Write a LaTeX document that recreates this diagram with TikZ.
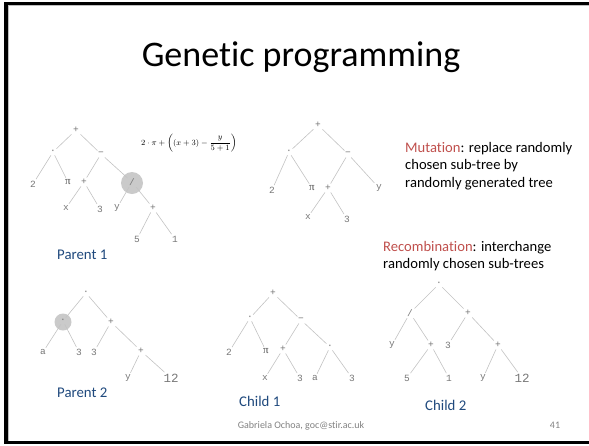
\documentclass[tikz,border=0pt]{standalone}
\usepackage{fontspec}
\setmainfont{Carlito}[Ligatures=NoCommon]
\newfontfamily\treefont{Liberation Mono}
\newfontfamily\greekfont{Liberation Serif}
\definecolor{treegray}{RGB}{120,120,120}
\definecolor{linegray}{RGB}{195,195,195}
\definecolor{circgray}{RGB}{185,185,185}
\definecolor{capblue}{RGB}{31,73,125}
\definecolor{keyred}{RGB}{192,80,77}
\definecolor{footgray}{RGB}{130,130,130}
\tikzset{
  tl/.style={font=\fontsize{9.5}{11}\selectfont\treefont, text=treegray, inner sep=1.5pt},
  tlbig/.style={tl, font=\fontsize{12.5}{14}\selectfont\treefont},
  pil/.style={tl, font=\fontsize{11}{12}\selectfont\greekfont, text=black!70},
  br/.style={draw=linegray, line width=0.6pt},
  sel/.style={circle, fill=circgray, fill opacity=0.75, minimum size=#1, inner sep=0pt},
  treecaption/.style={font=\fontsize{14.8}{17}\selectfont, text=capblue, anchor=west, inner sep=0pt},
  body/.style={font=\fontsize{14.6}{17.5}\selectfont, align=left, anchor=north west, inner sep=0pt}
}
\begin{document}
\begin{tikzpicture}[x=1pt,y=-1pt]
\useasboundingbox (0,0) rectangle (589,445);
\fill[white] (0,0) rectangle (589,445);
% slide frame
\fill[black] (4,2) rectangle (589,4.6);
\fill[black] (4,2) rectangle (8,443.5);
\fill[black] (4,441) rectangle (589,443.6);
\draw[black!25, line width=0.6pt] (8.5,5) -- (589,5);
\draw[black!25, line width=0.6pt] (8.5,5) -- (8.5,440.5);

% title
\node[font=\fontsize{36}{40}\selectfont] (title) at (301,57) {Genetic programming};

% ---------- Parent 1 ----------
\node[sel=22pt] (p1c) at (132,183) {};
\node[tl] (p1r) at (76,130) {+};
\node[tl] (p1m) at (53,152) {·};
\node[tl] (p1s) at (101,154) {−};
\node[tl] (p1two) at (33,184) {2};
\node[pil] (p1pi) at (68,182) {π};
\node[tl] (p1p) at (84,182) {+};
\node[tl] (p1d) at (132,182) {/};
\node[tl] (p1x) at (66,208) {x};
\node[tl] (p1th) at (100,209) {3};
\node[tl] (p1y) at (117,208) {y};
\node[tl] (p1q) at (153,208) {+};
\node[tl] (p1f) at (137,239) {5};
\node[tl] (p1o) at (175,239) {1};
\draw[br] (p1r) -- (p1m);
\draw[br] (p1r) -- (p1s);
\draw[br] (p1m) -- (p1two);
\draw[br] (p1m) -- (p1pi);
\draw[br] (p1s) -- (p1p);
\draw[br] (p1s) -- (p1d);
\draw[br] (p1p) -- (p1x);
\draw[br] (p1p) -- (p1th);
\draw[br] (p1d) -- (p1y);
\draw[br] (p1d) -- (p1q);
\draw[br] (p1q) -- (p1f);
\draw[br] (p1q) -- (p1o);
\node[treecaption] (lp1) at (57,255) {Parent 1};

% expression of parent 1
\node[font=\fontsize{8}{10}\selectfont] (expr) at (189,143)
  {$\displaystyle 2\cdot\pi+\left((x+3)-\frac{y}{5+1}\right)$};

% ---------- Mutated tree ----------
\node[tl] (mr) at (318,125) {+};
\node[tl] (mm) at (289,152) {·};
\node[tl] (ms) at (348,154) {−};
\node[tl] (mtwo) at (272,190) {2};
\node[pil] (mpi) at (312,188) {π};
\node[tl] (mp) at (328,188) {+};
\node[tl] (my) at (379,188) {y};
\node[tl] (mx) at (308,217) {x};
\node[tl] (mth) at (347,219) {3};
\draw[br] (mr) -- (mm);
\draw[br] (mr) -- (ms);
\draw[br] (mm) -- (mtwo);
\draw[br] (mm) -- (mpi);
\draw[br] (ms) -- (mp);
\draw[br] (ms) -- (my);
\draw[br] (mp) -- (mx);
\draw[br] (mp) -- (mth);

% operator descriptions
\node[body] (mut) at (405,142)
  {\textcolor{keyred}{Mutation}: replace randomly\\chosen sub-tree by\\randomly generated tree};
\node[body] (rec) at (383,241)
  {\textcolor{keyred}{Recombination}: interchange\\randomly chosen sub-trees};

% ---------- Parent 2 ----------
\node[sel=17pt] (p2c) at (63,322) {};
\node[tl] (p2r) at (86,293) {·};
\node[tl] (p2m) at (63,321) {·};
\node[tl] (p2p) at (111,322) {+};
\node[tl] (p2a) at (43,352) {a};
\node[tl] (p2t) at (79,352) {3};
\node[tl] (p2u) at (94,352) {3};
\node[tl] (p2q) at (141,351) {+};
\node[tl] (p2y) at (128,378) {y};
\node[tlbig] (p2w) at (171,378) {12};
\draw[br] (p2r) -- (p2m);
\draw[br] (p2r) -- (p2p);
\draw[br] (p2m) -- (p2a);
\draw[br] (p2m) -- (p2t);
\draw[br] (p2p) -- (p2u);
\draw[br] (p2p) -- (p2q);
\draw[br] (p2q) -- (p2y);
\draw[br] (p2q) -- (p2w);
\node[treecaption] (lp2) at (57,393) {Parent 2};

% ---------- Child 1 ----------
\node[tl] (c1r) at (273,293) {+};
\node[tl] (c1m) at (250,318) {·};
\node[tl] (c1s) at (301,320) {−};
\node[tl] (c1two) at (229,352) {2};
\node[pil] (c1pi) at (266,351) {π};
\node[tl] (c1p) at (283,349) {+};
\node[tl] (c1n) at (330,347) {·};
\node[tl] (c1x) at (265,378) {x};
\node[tl] (c1t) at (300,378) {3};
\node[tl] (c1a) at (315,378) {a};
\node[tl] (c1u) at (352,378) {3};
\draw[br] (c1r) -- (c1m);
\draw[br] (c1r) -- (c1s);
\draw[br] (c1m) -- (c1two);
\draw[br] (c1m) -- (c1pi);
\draw[br] (c1s) -- (c1p);
\draw[br] (c1s) -- (c1n);
\draw[br] (c1p) -- (c1x);
\draw[br] (c1p) -- (c1t);
\draw[br] (c1n) -- (c1a);
\draw[br] (c1n) -- (c1u);
\node[treecaption] (lc1) at (239,401) {Child 1};

% ---------- Child 2 ----------
\node[tl] (c2r) at (439,284) {·};
\node[tl] (c2d) at (410,313) {/};
\node[tl] (c2p) at (468,313) {+};
\node[tl] (c2y) at (392,345) {y};
\node[tl] (c2q) at (431,345) {+};
\node[tl] (c2t) at (448,345) {3};
\node[tl] (c2s) at (498,345) {+};
\node[tl] (c2f) at (407,378) {5};
\node[tl] (c2o) at (449,378) {1};
\node[tl] (c2v) at (483,378) {y};
\node[tlbig] (c2w) at (522,378) {12};
\draw[br] (c2r) -- (c2d);
\draw[br] (c2r) -- (c2p);
\draw[br] (c2d) -- (c2y);
\draw[br] (c2d) -- (c2q);
\draw[br] (c2p) -- (c2t);
\draw[br] (c2p) -- (c2s);
\draw[br] (c2q) -- (c2f);
\draw[br] (c2q) -- (c2o);
\draw[br] (c2s) -- (c2v);
\draw[br] (c2s) -- (c2w);
\node[treecaption] (lc2) at (425,405) {Child 2};

% footer
\node[font=\fontsize{10}{12}\selectfont, text=footgray] (foot) at (301,426) {Gabriela Ochoa, goc@stir.ac.uk};
\node[font=\fontsize{10}{12}\selectfont, text=footgray] (page) at (555,425) {41};
\end{tikzpicture}
\end{document}
